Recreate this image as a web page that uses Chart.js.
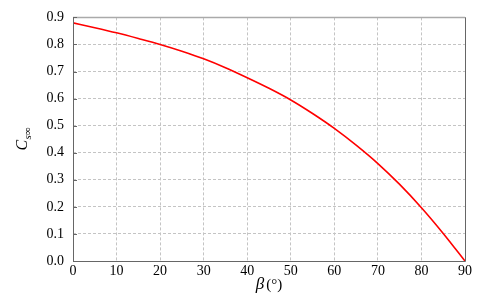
<!DOCTYPE html>
<html>
<head>
<meta charset="utf-8">
<script src="https://cdn.jsdelivr.net/npm/chart.js@4/dist/chart.umd.min.js"></script>
<style>
html,body{margin:0;padding:0;background:#fff;}
#wrap{width:491px;height:294px;position:relative;}
</style>
</head>
<body>
<div id="wrap"><canvas id="c" width="491" height="294"></canvas></div>
<script>
const betaDeg = [0,5,10,15,20,25,30,35,40,45,50,55,60,65,70,75,80,85,90];
const cSInf   = [0.880,0.862,0.843,0.822,0.800,0.775,0.747,0.714,0.677,0.638,0.595,0.545,0.490,0.428,0.360,0.283,0.197,0.102,0.000];
const xTicks = [0,10,20,30,40,50,60,70,80,90];
const yTicks = [0.0,0.1,0.2,0.3,0.4,0.5,0.6,0.7,0.8,0.9];
const xTitleMain = 'β';
const xTitleUnit = '(°)';
const yTitleMain = 'C';
const yTitleSub = 's∞';

const SERIF = '"Liberation Serif", "DejaVu Serif", serif';

const framePlugin = {
  id: 'frame',
  afterDraw(chart) {
    const ctx = chart.ctx;
    const a = chart.chartArea;
    ctx.save();
    ctx.strokeStyle = '#aaaaaa';
    ctx.lineWidth = 1.5;
    ctx.beginPath(); ctx.moveTo(a.left, a.top); ctx.lineTo(a.right, a.top); ctx.stroke();
    ctx.strokeStyle = '#666666';
    ctx.lineWidth = 1;
    ctx.beginPath();
    ctx.moveTo(a.left + 0.5, a.top); ctx.lineTo(a.left + 0.5, a.bottom + 0.5);
    ctx.lineTo(a.right + 0.5, a.bottom + 0.5); ctx.lineTo(a.right + 0.5, a.top);
    ctx.stroke();
    const ys = chart.scales.y;
    ctx.beginPath();
    yTicks.forEach(v => {
      const py = Math.round(ys.getPixelForValue(v)) + 0.5;
      ctx.moveTo(a.left, py); ctx.lineTo(a.left + 4, py);
    });
    ctx.stroke();
    ctx.fillStyle = '#000';
    ctx.textBaseline = 'alphabetic';
    const cx = (a.left + a.right) / 2;
    const by = 289;
    ctx.font = 'italic 17px ' + SERIF;
    const w1 = ctx.measureText(xTitleMain).width;
    ctx.font = '15px ' + SERIF;
    const w2 = ctx.measureText(xTitleUnit).width;
    const gap = 2;
    let sx = cx - (w1 + gap + w2) / 2;
    ctx.font = 'italic 17px ' + SERIF;
    ctx.textAlign = 'left';
    ctx.fillText(xTitleMain, sx, by);
    ctx.font = '15px ' + SERIF;
    ctx.fillText(xTitleUnit, sx + w1 + gap, by);
    ctx.translate(27, (a.top + a.bottom) / 2);
    ctx.rotate(-Math.PI / 2);
    ctx.font = 'italic 16px ' + SERIF;
    const wc = ctx.measureText(yTitleMain).width;
    ctx.font = 'italic 11px ' + SERIF;
    const ws = ctx.measureText(yTitleSub).width;
    const start = -(wc + ws) / 2;
    ctx.font = 'italic 16px ' + SERIF;
    ctx.fillText(yTitleMain, start, 0);
    ctx.font = 'italic 11px ' + SERIF;
    ctx.fillText(yTitleSub, start + wc + 0.5, 4);
    ctx.restore();
  }
};

new Chart(document.getElementById('c'), {
  type: 'line',
  data: {
    datasets: [{
      data: betaDeg.map((b, i) => ({x: b, y: cSInf[i]})),
      borderColor: '#ff0000',
      borderWidth: 1.6,
      pointRadius: 0,
      cubicInterpolationMode: 'monotone',
      fill: false
    }]
  },
  options: {
    responsive: false,
    animation: false,
    devicePixelRatio: 1,
    layout: { padding: { top: 12, right: 26, left: 0, bottom: 0 } },
    plugins: { legend: { display: false }, tooltip: { enabled: false } },
    scales: {
      x: {
        type: 'linear',
        min: 0, max: 90,
        afterBuildTicks: s => { s.ticks = xTicks.map(v => ({value: v})); },
        afterFit: s => { s.height = 33; },
        ticks: {
          color: '#000',
          font: { family: SERIF, size: 14 },
          padding: 2,
          maxRotation: 0,
          callback: v => String(v)
        },
        grid: { color: '#c4c4c4', lineWidth: 1, drawTicks: false },
        border: { display: false, dash: [3, 2] }
      },
      y: {
        type: 'linear',
        min: 0, max: 0.9,
        afterBuildTicks: s => { s.ticks = yTicks.map(v => ({value: v})); },
        afterFit: s => { s.width = 73; },
        ticks: {
          color: '#000',
          font: { family: SERIF, size: 14 },
          padding: 9,
          callback: v => Number(v).toFixed(1)
        },
        grid: { color: '#c4c4c4', lineWidth: 1, drawTicks: false },
        border: { display: false, dash: [3, 2] }
      }
    }
  },
  plugins: [framePlugin]
});
</script>
</body>
</html>
